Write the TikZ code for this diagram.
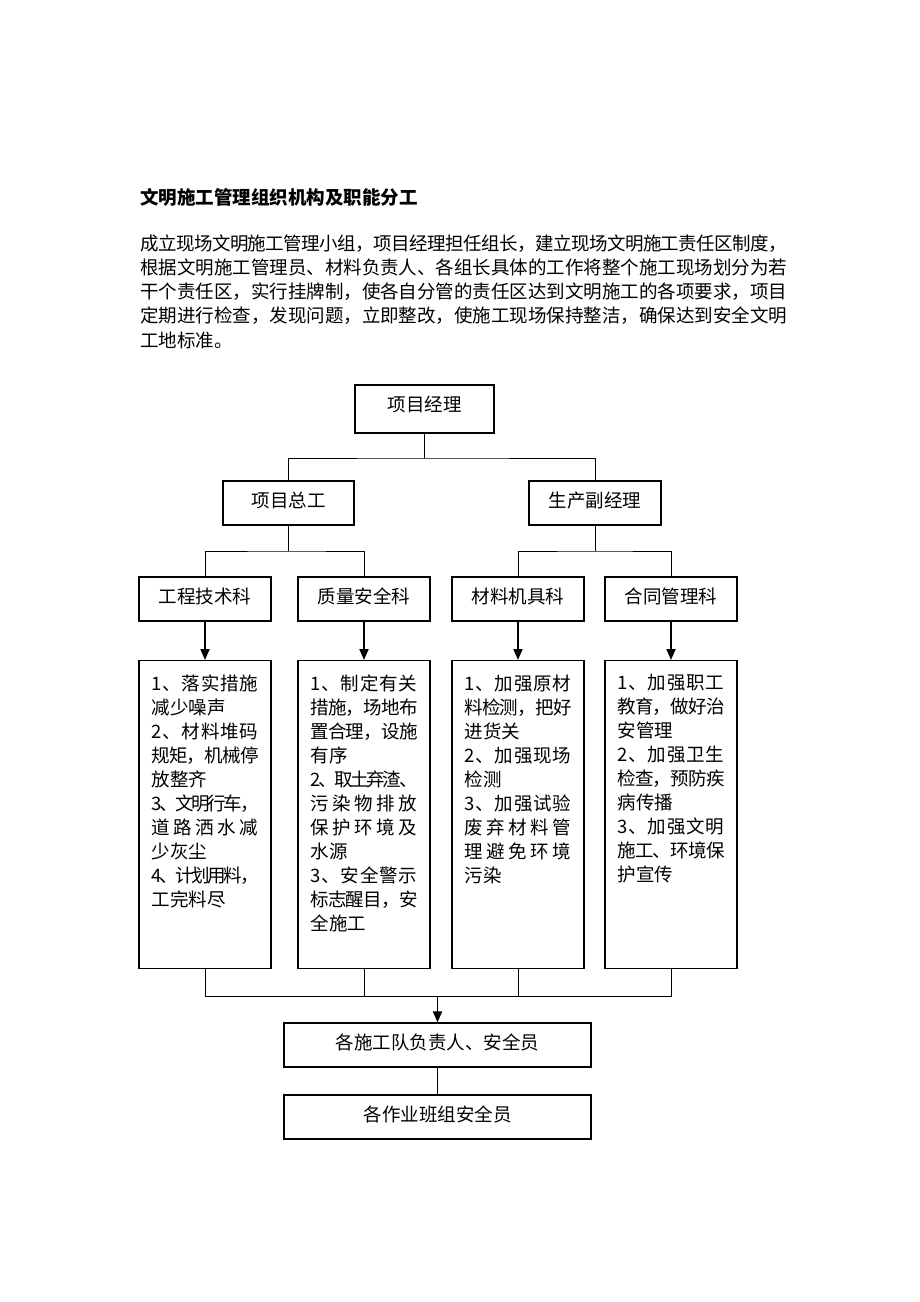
\documentclass[tikz,border=0pt]{standalone}
\usepackage{fontspec}
\setmainfont{Noto Sans CJK SC}
\usetikzlibrary{arrows.meta}
\newcommand\fs{\fontsize{18.5}{24}\selectfont}
\def\sprdEnd{sprdEnd}
\def\sprdG{\hskip 0pt plus 1fil minus 1fil\relax}
\def\sprdA#1#2{#1\ifx#2\sprdEnd\else\sprdG\expandafter\sprdA\expandafter#2\fi}
\newcommand\sprd[2][\linewidth]{\makebox[#1][s]{\sprdA#2\sprdEnd}}
\tikzset{
  box/.style={draw, line width=1.2pt, minimum width=132pt, minimum height=44pt, inner sep=0pt, font=\fs, text height=16.3pt, text depth=8.2pt},
  bigbox/.style={draw, line width=1.2pt, inner xsep=12.5pt, inner ysep=10pt, anchor=north, font=\fs},
  link/.style={line width=1pt},
  arr/.style={line width=1.8pt, -{Triangle[length=11pt,width=9pt]}},
}
\begin{document}
\begin{tikzpicture}[x=1pt,y=-1pt]
\fill[white] (0,0) rectangle (920,1302);
\useasboundingbox (0,0) rectangle (920,1302);
% title and paragraph
\node[anchor=base west, inner sep=0, font=\fs\bfseries] (title) at (140,204) {文明施工管理组织机构及职能分工};
\node[anchor=base west, inner sep=0, font=\fs] (para) at (140,250) {\parbox[t]{647pt}{\fontsize{18.5}{24.3}\selectfont
\sprd{成立现场文明施工管理小组，项目经理担任组长，建立现场文明施工责任区制度，}\\
\sprd{根据文明施工管理员、材料负责人、各组长具体的工作将整个施工现场划分为若}\\
\sprd{干个责任区，实行挂牌制，使各自分管的责任区达到文明施工的各项要求，项目}\\
\sprd{定期进行检查，发现问题，立即整改，使施工现场保持整洁，确保达到安全文明}\\
工地标准。}};
% boxes
\node[box, minimum width=139pt, minimum height=48pt, text depth=12.2pt] (pm) at (424.5,409) {项目经理};
\node[box, minimum width=131pt] (zg) at (288.5,503) {项目总工};
\node[box] (fj) at (595,503) {生产副经理};
\node[box] (k1) at (205,599) {工程技术科};
\node[box] (k2) at (364,599) {质量安全科};
\node[box] (k3) at (518,599) {材料机具科};
\node[box] (k4) at (671,599) {合同管理科};
\node[bigbox] (b1) at (205,660) {\parbox[c][288pt][t]{107pt}{\vspace*{4pt}%
\sprd{1、落实措施}\\
减少噪声\\
\sprd{2、材料堆码}\\
\sprd{规矩，机械停}\\
放整齐\\
\sprd{3、文明行车，}\\
\sprd{道路洒水减}\\
少灰尘\\
\sprd{4、计划用料，}\\
工完料尽}};
\node[bigbox] (b2) at (364,660) {\parbox[c][288pt][t]{107pt}{\vspace*{4pt}%
\sprd{1、制定有关}\\
\sprd{措施，场地布}\\
\sprd{置合理，设施}\\
有序\\
\sprd{2、取土弃渣、}\\
\sprd{污染物排放}\\
\sprd{保护环境及}\\
水源\\
\sprd{3、安全警示}\\
\sprd{标志醒目，安}\\
全施工}};
\node[bigbox] (b3) at (518,660) {\parbox[c][288pt][t]{107pt}{\vspace*{4pt}%
\sprd{1、加强原材}\\
\sprd{料检测，把好}\\
进货关\\
\sprd{2、加强现场}\\
检测\\
\sprd{3、加强试验}\\
\sprd{废弃材料管}\\
\sprd{理避免环境}\\
污染}};
\node[bigbox] (b4) at (671,660) {\parbox[c][288pt][t]{107pt}{\vspace*{4pt}%
\sprd{1、加强职工}\\
\sprd{教育，做好治}\\
安管理\\
\sprd{2、加强卫生}\\
\sprd{检查，预防疾}\\
病传播\\
\sprd{3、加强文明}\\
\sprd{施工、环境保}\\
护宣传}};
\node[box, minimum width=307pt, text depth=7.2pt] (t1) at (437.5,1045) {各施工队负责人、安全员};
\node[box, minimum width=307pt, text depth=7.2pt] (t2) at (437.5,1117) {各作业班组安全员};
% connectors
\coordinate (j1) at (424.5,458);
\coordinate (j2) at (288.5,551);
\coordinate (j3) at (595,551);
\coordinate (j4) at (437.5,996);
\draw[link] (pm.south) -- (j1);
\draw[link] (zg.north) |- (j1) -| (fj.north);
\draw[link] (zg.south) -- (j2);
\draw[link] (k1.north) |- (j2) -| (k2.north);
\draw[link] (fj.south) -- (j3);
\draw[link] (k3.north) |- (j3) -| (k4.north);
\draw[arr] (k1.south) -- (b1.north);
\draw[arr] (k2.south) -- (b2.north);
\draw[arr] (k3.south) -- (b3.north);
\draw[arr] (k4.south) -- (b4.north);
\draw[link] (b1.south) |- (j4) -| (b4.south);
\draw[link] (b2.south) |- (j4);
\draw[link] (b3.south) |- (j4);
\draw[arr] (j4) -- (t1.north);
\draw[link] (t1.south) -- (t2.north);
\end{tikzpicture}
\end{document}
